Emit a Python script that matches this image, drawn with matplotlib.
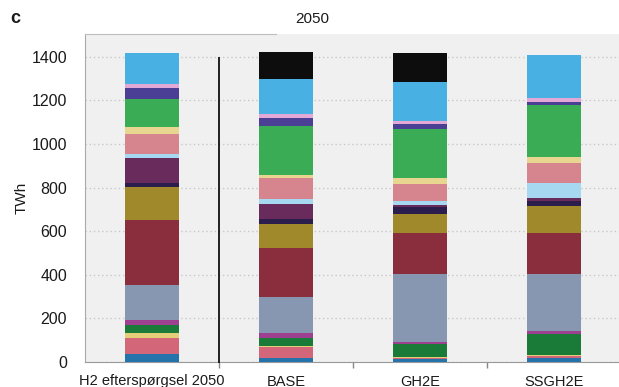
import matplotlib
matplotlib.use("Agg")
import matplotlib.pyplot as plt
import numpy as np

plt.rcParams['font.family'] = ['Liberation Sans', 'DejaVu Sans']

categories = ["H2 efterspørgsel 2050", "BASE", "GH2E", "SSGH2E"]

# Stacked segments (TWh), bottom to top
seg_blue      = [37, 18, 12, 17]
seg_pinkred   = [73, 51, 8, 9]
seg_yellow    = [23, 6, 4, 6]
seg_dkgreen   = [35, 37, 60, 96]
seg_magenta   = [24, 21, 10, 13]
seg_greyblue  = [161, 167, 308, 261]
seg_dkred     = [297, 225, 188, 189]
seg_olive     = [152, 110, 89, 125]
seg_navy      = [20, 20, 30, 25]
seg_purple    = [116, 72, 10, 10]
seg_ltblue    = [18, 20, 22, 72]
seg_pink      = [92, 95, 75, 92]
seg_beige     = [28, 14, 27, 25]
seg_green     = [130, 227, 227, 238]
seg_indigo    = [52, 36, 20, 15]
seg_lavender  = [17, 18, 15, 20]
seg_skyblue   = [141, 160, 181, 194]
seg_black     = [0, 124, 133, 0]

series = [
    (seg_blue, '#2473aa'),
    (seg_pinkred, '#d36678'),
    (seg_yellow, '#e3cf78'),
    (seg_dkgreen, '#1a7a38'),
    (seg_magenta, '#9e4090'),
    (seg_greyblue, '#8796b1'),
    (seg_dkred, '#8a2d3c'),
    (seg_olive, '#a0892a'),
    (seg_navy, '#2b1e4c'),
    (seg_purple, '#692a5c'),
    (seg_ltblue, '#a6d8f2'),
    (seg_pink, '#d6858f'),
    (seg_beige, '#e8d58f'),
    (seg_green, '#3aac55'),
    (seg_indigo, '#4a3f95'),
    (seg_lavender, '#e2a9d6'),
    (seg_skyblue, '#48b0e3'),
    (seg_black, '#0d0d0d'),
]

y_ticks = [0, 200, 400, 600, 800, 1000, 1200, 1400]

fig = plt.figure(figsize=(6.19, 3.87), dpi=100)
ax = fig.add_axes([85 / 619, 25 / 387, 534 / 619, 328 / 387])
ax.set_facecolor('#f0f0f0')

x = np.arange(len(categories))
bottom = np.zeros(len(categories))
for vals, col in series:
    v = np.array(vals, dtype=float)
    ax.bar(x, v, width=0.40, bottom=bottom, color=col, linewidth=0, zorder=3)
    bottom += v

ax.set_xlim(-0.5, 3.485)
ax.set_ylim(0, 1505)
ax.set_yticks(y_ticks)
ax.set_yticklabels([str(t) for t in y_ticks], fontsize=11.5, color='#1a1a1a')
ax.tick_params(axis='y', length=0, pad=13)
ax.yaxis.grid(True, linestyle=(0, (1, 2)), color='#c8c8c8', linewidth=1.0, zorder=1)
ax.set_axisbelow(True)

ax.set_xticks(x)
ax.set_xticklabels(categories, fontsize=10.5, color='#1a1a1a')
ax.tick_params(axis='x', which='major', length=0, pad=9)
ax.set_xticks([0.5, 1.5, 2.5], minor=True)
ax.tick_params(axis='x', which='minor', length=4, color='#888888', width=1)

ax.set_ylabel("TWh", fontsize=11, color='#1a1a1a', labelpad=2)

ax.spines['right'].set_visible(False)
ax.spines['top'].set_color('#bdbdbd')
ax.spines['top'].set_bounds(-0.5, 0.925)
ax.spines['left'].set_color('#aaaaaa')
ax.spines['bottom'].set_color('#999999')

# separator between demand and scenarios
ax.vlines(0.5, -6, 1400, color='#111111', linewidth=1.3, zorder=4, clip_on=False)

fig.text(0.505, 0.952, "2050", ha='center', va='center', fontsize=11, color='#1a1a1a')
fig.text(0.016, 0.952, "c", ha='left', va='center', fontsize=13, fontweight='bold', color='#1a1a1a')

fig.savefig("out.png", dpi=100, facecolor='white')
